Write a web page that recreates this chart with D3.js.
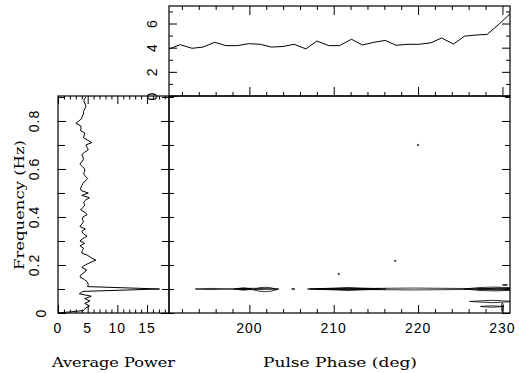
<!DOCTYPE html>
<html>
<head>
<meta charset="utf-8">
<script src="https://cdn.jsdelivr.net/npm/d3@7"></script>
<style>
  html, body { margin: 0; padding: 0; background: #fff; }
  svg { display: block; }
  .num { font-family: "Liberation Sans", Arial, sans-serif; font-size: 14px; letter-spacing: 1px; fill: #000; }
  .ttl { font-family: "DejaVu Serif", "Liberation Serif", serif; font-size: 13px; fill: #000; }
</style>
</head>
<body>
<div id="chart"></div>
<script>
// Puls fazına göre ortalama güç (üst panel)
const phaseGrid = [190.5, 191.8, 193.2, 194.5, 195.9, 197.2, 198.6, 199.9, 201.3, 202.6, 204.0,
  205.3, 206.7, 208.0, 209.4, 210.7, 212.1, 213.4, 214.8, 216.1, 217.4, 218.8, 220.1, 221.5,
  222.8, 224.2, 225.5, 226.9, 228.2, 229.6, 230.9];
const phasePower = [3.9, 4.25, 3.95, 4.05, 4.45, 4.17, 4.17, 4.33, 4.28, 4.05, 4.1, 4.28, 3.9,
  4.55, 4.17, 4.17, 4.7, 4.22, 4.45, 4.6, 4.2, 4.28, 4.28, 4.4, 4.8, 4.3, 4.95, 5.05, 5.1, 5.95, 6.8];

// Frekansa göre ortalama güç (sol panel)
const freqGrid = [0.00, 0.01, 0.02, 0.03, 0.04, 0.05, 0.06, 0.07, 0.08, 0.09,
  0.10, 0.11, 0.12, 0.13, 0.14, 0.15, 0.16, 0.17, 0.18, 0.19,
  0.20, 0.21, 0.22, 0.23, 0.24, 0.25, 0.26, 0.27, 0.28, 0.29,
  0.30, 0.31, 0.32, 0.33, 0.34, 0.35, 0.36, 0.37, 0.38, 0.39,
  0.40, 0.41, 0.42, 0.43, 0.44, 0.45, 0.46, 0.47, 0.48, 0.49,
  0.50, 0.51, 0.52, 0.53, 0.54, 0.55, 0.56, 0.57, 0.58, 0.59,
  0.60, 0.61, 0.62, 0.63, 0.64, 0.65, 0.66, 0.67, 0.68, 0.69,
  0.70, 0.71, 0.72, 0.73, 0.74, 0.75, 0.76, 0.77, 0.78, 0.79,
  0.80, 0.81, 0.82, 0.83, 0.84, 0.85, 0.86, 0.87, 0.88, 0.89, 0.90];
const avgPower = [0, 4.3, 4.6, 5.3, 4.5, 5.4, 4.5, 5.6, 3.6, 4.2,
  17.1, 5.0, 5.1, 4.9, 4.4, 3.7, 3.9, 4.5, 4.8, 4.0,
  4.6, 5.4, 6.4, 5.6, 5.0, 4.0, 4.1, 4.3, 3.7, 4.5,
  3.7, 4.2, 4.9, 4.3, 4.0, 4.6, 3.7, 4.0, 4.3, 4.1,
  4.2, 4.9, 4.5, 3.8, 4.2, 4.55, 4.3, 4.6, 5.3, 4.0,
  5.1, 3.9, 3.8, 4.0, 4.2, 4.6, 5.0, 4.6, 4.3, 4.5,
  4.5, 4.1, 3.7, 4.0, 4.3, 4.2, 4.0, 4.5, 5.1, 4.9,
  4.7, 5.7, 5.0, 4.3, 4.4, 4.5, 3.8, 3.9, 3.8, 3.0,
  3.5, 4.0, 4.1, 4.3, 4.3, 4.5, 4.7, 4.6, 4.4, 4.4, 4.7];

// Kontur parçaları: faz başı/sonu, merkez frekans, yarı yükseklik (Hz)
const contourP0 = [193.6, 197.3, 198.2, 198.6, 200.4, 205.0, 206.9, 207.2, 207.8, 225.5, 227.0,
  230.0, 226.1, 227.4, 229.9, 210.5, 217.2, 219.9];
const contourP1 = [197.3, 203.5, 200.4, 200.1, 203.3, 205.4, 232.0, 216.2, 215.5, 232.5, 232.0,
  230.6, 231.5, 230.2, 230.1, 210.7, 217.4, 220.1];
const contourF = [0.100, 0.100, 0.100, 0.100, 0.098, 0.100, 0.100, 0.100, 0.100, 0.100, 0.100,
  0.117, 0.048, 0.027, 0.023, 0.1625, 0.217, 0.700];
const contourH = [0.0025, 0.003, 0.005, 0.0025, 0.009, 0.002, 0.004, 0.006, 0.003, 0.008, 0.004,
  0.002, 0.005, 0.003, 0.019, 0.003, 0.003, 0.003];

// Tik değerleri
const phaseMinor = [192, 194, 196, 198, 202, 204, 206, 208, 212, 214, 216, 218, 222, 224, 226, 228];
const phaseMajor = [200, 210, 220, 230];
const topMinor = [1, 3, 5, 7];
const topMajor = [0, 2, 4, 6];
const powMinor = [1, 2, 3, 4, 6, 7, 8, 9, 11, 12, 13, 14, 16, 17, 18];
const powMajor = [0, 5, 10, 15];
const freqMinor = [0.1, 0.3, 0.5, 0.7, 0.9];
const freqMajor = [0, 0.2, 0.4, 0.6, 0.8];

const width = 519, height = 373;
const svg = d3.select('#chart').append('svg')
  .attr('width', width).attr('height', height);

const xPhase = d3.scaleLinear().domain([190.47, 230.9]).range([169, 510]);
const yTop = d3.scaleLinear().domain([0, 7.45]).range([96, 6]);
const xPow = d3.scaleLinear().domain([0, 18.7]).range([58, 169]);
const yFreq = d3.scaleLinear().domain([0, 0.904]).range([313, 96]);

// Tik çizimi: d3 axis, sadece çizgiler
function ticks(axisFn, scale, values, size, tx, ty) {
  const g = svg.append('g')
    .attr('transform', `translate(${tx},${ty})`)
    .call(axisFn(scale).tickValues(values).tickSize(size).tickFormat(''));
  g.select('.domain').remove();
  g.selectAll('line').attr('stroke', '#000').attr('stroke-width', 1);
}

// Üst panel
ticks(d3.axisBottom, xPhase, phaseMinor, -4, 0, 96);
ticks(d3.axisBottom, xPhase, phaseMajor, -9, 0, 96);
ticks(d3.axisTop, xPhase, phaseMinor, -4, 0, 6);
ticks(d3.axisTop, xPhase, phaseMajor, -9, 0, 6);
ticks(d3.axisLeft, yTop, topMinor, -4, 169, 0);
ticks(d3.axisLeft, yTop, topMajor, -8, 169, 0);
ticks(d3.axisRight, yTop, topMinor, -4, 510, 0);
ticks(d3.axisRight, yTop, topMajor, -8, 510, 0);

// Sol panel
ticks(d3.axisBottom, xPow, powMinor, -3.5, 0, 313);
ticks(d3.axisBottom, xPow, powMajor, -8, 0, 313);
ticks(d3.axisTop, xPow, powMinor, -3.5, 0, 96);
ticks(d3.axisTop, xPow, powMajor, -8, 0, 96);
ticks(d3.axisLeft, yFreq, freqMinor, -7, 58, 0);
ticks(d3.axisLeft, yFreq, freqMajor, -8, 58, 0);
ticks(d3.axisRight, yFreq, freqMinor, -7, 169, 0);
ticks(d3.axisRight, yFreq, freqMajor, -8, 169, 0);

// Ana panel
ticks(d3.axisBottom, xPhase, phaseMinor, -4, 0, 313);
ticks(d3.axisBottom, xPhase, phaseMajor, -8, 0, 313);
ticks(d3.axisLeft, yFreq, freqMinor, -5, 169, 0);
ticks(d3.axisLeft, yFreq, freqMajor, -5, 169, 0);
ticks(d3.axisRight, yFreq, freqMinor, -5, 510, 0);
ticks(d3.axisRight, yFreq, freqMajor, -8, 510, 0);

// Çerçeveler
const frames = [[169, 6, 510, 96], [58, 96, 169, 313], [169, 96, 510, 313]];
svg.selectAll('rect.frame').data(frames).enter().append('rect')
  .attr('class', 'frame')
  .attr('x', d => d[0]).attr('y', d => d[1])
  .attr('width', d => d[2] - d[0]).attr('height', d => d[3] - d[1])
  .attr('fill', 'none').attr('stroke', '#000').attr('stroke-width', 1.2);

// Üst panel çizgisi
svg.append('path')
  .datum(phaseGrid.map((p, i) => [p, phasePower[i]]))
  .attr('fill', 'none').attr('stroke', '#000').attr('stroke-width', 1)
  .attr('d', d3.line().x(d => xPhase(d[0])).y(d => yTop(d[1])));

// Sol panel çizgisi
svg.append('path')
  .datum(freqGrid.map((f, i) => [avgPower[i], f]))
  .attr('fill', 'none').attr('stroke', '#000').attr('stroke-width', 1)
  .attr('d', d3.line().x(d => xPow(d[0])).y(d => yFreq(d[1])));

// Konturlar
svg.append('clipPath').attr('id', 'clip-main').append('rect')
  .attr('x', 169).attr('y', 96).attr('width', 341).attr('height', 217);

function lensPath(i) {
  const x0 = xPhase(contourP0[i]), x1 = xPhase(contourP1[i]);
  const yc = yFreq(contourF[i]);
  const s = Math.abs(yFreq(contourF[i] + contourH[i]) - yc);
  const w = x1 - x0;
  if (s < w / 2) {
    const r = (w * w / 4 + s * s) / (2 * s);
    return `M${x0},${yc}A${r},${r} 0 0 1 ${x1},${yc}A${r},${r} 0 0 1 ${x0},${yc}Z`;
  }
  return `M${x0},${yc}A${w / 2},${s} 0 0 1 ${x1},${yc}A${w / 2},${s} 0 0 1 ${x0},${yc}Z`;
}

svg.append('g').attr('clip-path', 'url(#clip-main)')
  .selectAll('path').data(d3.range(contourP0.length)).enter().append('path')
  .attr('d', lensPath)
  .attr('fill', 'none').attr('stroke', '#000').attr('stroke-width', 0.8);

// Etiketler
svg.selectAll('text.phl').data(phaseMajor).enter().append('text')
  .attr('class', 'num').attr('x', d => xPhase(d)).attr('y', 333)
  .attr('text-anchor', 'middle').text(d => d);

svg.selectAll('text.pwl').data(powMajor).enter().append('text')
  .attr('class', 'num').attr('x', d => xPow(d)).attr('y', 333)
  .attr('text-anchor', 'middle').text(d => d);

// "0" etiketi eksene daha yakın duruyor
svg.selectAll('text.fql').data(freqMajor).enter().append('text')
  .attr('class', 'num')
  .attr('transform', d => `translate(${d === 0 ? 45.5 : 38.5},${yFreq(d)}) rotate(-90)`)
  .attr('text-anchor', 'middle').text(d => d);

svg.selectAll('text.tpl').data(topMajor).enter().append('text')
  .attr('class', 'num')
  .attr('transform', d => `translate(157,${yTop(d)}) rotate(-90)`)
  .attr('text-anchor', 'middle').text(d => d);

svg.append('text').attr('class', 'ttl')
  .attr('x', 113.5).attr('y', 366.5).attr('text-anchor', 'middle')
  .attr('textLength', 123).attr('lengthAdjust', 'spacingAndGlyphs')
  .text('Average Power');

svg.append('text').attr('class', 'ttl')
  .attr('x', 340).attr('y', 366.5).attr('text-anchor', 'middle')
  .attr('textLength', 154).attr('lengthAdjust', 'spacingAndGlyphs')
  .text('Pulse Phase (deg)');

svg.append('text').attr('class', 'ttl')
  .attr('transform', 'translate(24,205) rotate(-90)').attr('text-anchor', 'middle')
  .attr('textLength', 130).attr('lengthAdjust', 'spacingAndGlyphs')
  .text('Frequency (Hz)');
</script>
</body>
</html>
